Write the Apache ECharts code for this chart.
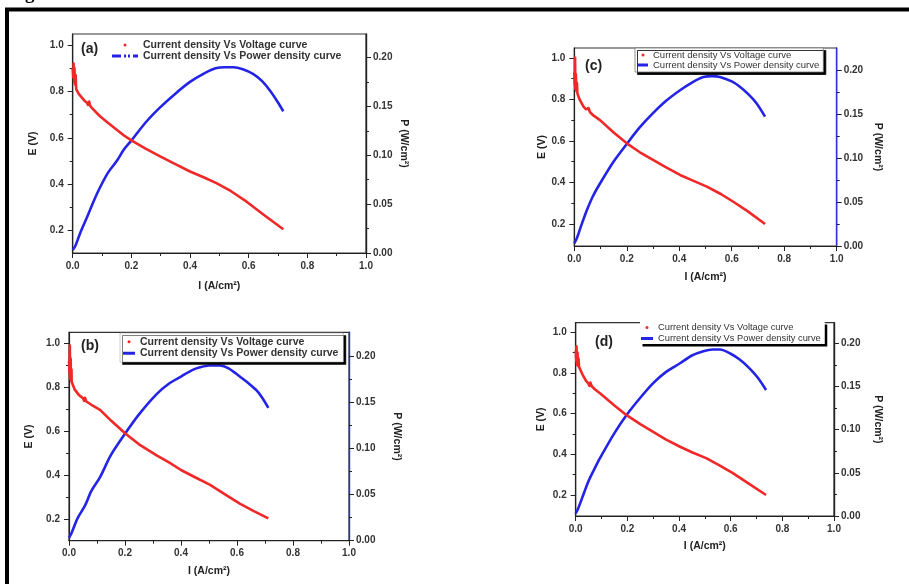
<!DOCTYPE html>
<html><head><meta charset="utf-8">
<script src="https://cdn.jsdelivr.net/npm/echarts@6/dist/echarts.min.js"></script>
<style>html,body{margin:0;padding:0;background:#fff}#c{width:909px;height:584px}</style>
</head><body><div id="c"></div>
<script>
// ---------- data ----------
const SERIES_NAMES = ['Current density Vs Voltage curve', 'Current density Vs Power density curve'];
const PANEL_LABELS = ['(a)', '(b)', '(c)', '(d)'];
const X_NAME = 'I (A/cm²)';
const E_NAME = 'E (V)';
const P_NAME = 'P (W/cm²)';
const E_TICKS = [0.2, 0.4, 0.6, 0.8, 1.0];
const E_MINOR = [0.3, 0.5, 0.7, 0.9];
const P_TICKS = [0, 0.05, 0.10, 0.15, 0.20];
const P_MINOR = [0.025, 0.075, 0.125, 0.175];

// panel (a): [I, E] and [I, P]
const A_E = [[0,0.90],[0.002,0.86],[0.003,0.92],[0.005,0.84],[0.006,0.90],[0.008,0.83],[0.010,0.87],[0.012,0.81],[0.02,0.79],[0.03,0.775],[0.04,0.76],[0.048,0.752],[0.052,0.742],[0.056,0.756],[0.06,0.736],[0.075,0.716],[0.093,0.693],[0.12,0.665],[0.15,0.635],[0.175,0.61],[0.2,0.589],[0.25,0.552],[0.298,0.52],[0.35,0.487],[0.4,0.455],[0.45,0.428],[0.49,0.405],[0.54,0.37],[0.593,0.325],[0.65,0.27],[0.718,0.206]];
const A_P = [[0,0.003],[0.01,0.008],[0.025,0.02],[0.048,0.036],[0.07,0.052],[0.093,0.067],[0.12,0.082],[0.15,0.094],[0.175,0.106],[0.2,0.115],[0.25,0.134],[0.298,0.149],[0.35,0.163],[0.4,0.175],[0.45,0.184],[0.487,0.189],[0.52,0.190],[0.548,0.190],[0.58,0.188],[0.616,0.183],[0.645,0.176],[0.673,0.166],[0.7,0.154],[0.718,0.145]];
// panel (b)
const B_E = [[0,0.92],[0.002,0.86],[0.003,0.99],[0.004,0.84],[0.006,0.93],[0.007,0.83],[0.009,0.88],[0.0095,0.825],[0.02,0.79],[0.035,0.765],[0.05,0.75],[0.054,0.738],[0.057,0.752],[0.062,0.735],[0.08,0.72],[0.111,0.697],[0.15,0.648],[0.2,0.59],[0.25,0.54],[0.313,0.49],[0.36,0.455],[0.40,0.423],[0.45,0.39],[0.504,0.355],[0.56,0.31],[0.61,0.27],[0.66,0.236],[0.712,0.203]];
const B_P = [[0,0.003],[0.01,0.009],[0.03,0.024],[0.057,0.038],[0.08,0.054],[0.111,0.069],[0.15,0.093],[0.2,0.116],[0.25,0.137],[0.313,0.159],[0.36,0.171],[0.40,0.178],[0.44,0.185],[0.468,0.188],[0.5,0.19],[0.539,0.190],[0.57,0.187],[0.61,0.178],[0.64,0.171],[0.67,0.163],[0.69,0.155],[0.712,0.144]];
// panel (c)
const C_E = [[0,0.93],[0.002,0.87],[0.003,1.0],[0.004,0.85],[0.006,0.92],[0.008,0.84],[0.010,0.88],[0.012,0.828],[0.02,0.80],[0.035,0.765],[0.045,0.752],[0.05,0.744],[0.054,0.758],[0.06,0.738],[0.075,0.72],[0.098,0.70],[0.15,0.64],[0.2,0.588],[0.25,0.545],[0.30,0.508],[0.35,0.472],[0.403,0.436],[0.45,0.41],[0.505,0.38],[0.56,0.343],[0.606,0.307],[0.66,0.262],[0.727,0.2]];
const C_P = [[0,0.003],[0.01,0.009],[0.025,0.022],[0.047,0.04],[0.07,0.056],[0.098,0.071],[0.15,0.096],[0.2,0.116],[0.25,0.135],[0.30,0.151],[0.35,0.165],[0.403,0.177],[0.45,0.186],[0.492,0.192],[0.525,0.193],[0.555,0.192],[0.6,0.187],[0.631,0.181],[0.665,0.172],[0.695,0.162],[0.727,0.147]];
// panel (d)
const D_E = [[0,0.91],[0.002,0.86],[0.003,0.93],[0.005,0.84],[0.007,0.90],[0.009,0.835],[0.011,0.87],[0.013,0.829],[0.025,0.795],[0.04,0.76],[0.049,0.748],[0.053,0.736],[0.057,0.752],[0.062,0.734],[0.075,0.718],[0.094,0.70],[0.15,0.64],[0.197,0.592],[0.25,0.548],[0.30,0.51],[0.35,0.472],[0.404,0.437],[0.45,0.41],[0.507,0.38],[0.56,0.343],[0.61,0.306],[0.67,0.256],[0.737,0.2]];
const D_P = [[0,0.003],[0.01,0.009],[0.025,0.021],[0.049,0.04],[0.07,0.053],[0.094,0.067],[0.15,0.096],[0.197,0.117],[0.25,0.137],[0.30,0.154],[0.35,0.167],[0.404,0.177],[0.45,0.186],[0.494,0.191],[0.53,0.193],[0.559,0.193],[0.6,0.188],[0.636,0.181],[0.67,0.172],[0.703,0.161],[0.737,0.146]];

const PANEL_DATA = [[A_E, A_P], [B_E, B_P], [C_E, C_P], [D_E, D_P]];

// ---------- layout (styles / positions) ----------
const RED = '#f02828', BLUE = '#2424e6';
const LAYOUT = [
  { grid:{left:72.7, top:34, width:293.3, height:219}, e:[0.104,1.047], p:[0,0.224], rightColor:'#222',
    gE:34, gP:32, gI:28, lab:{left:81, top:42},
    legend:{left:112, top:39.5, padding:0, itemWidth:26, textStyle:{fontSize:10.5, fontWeight:'bold', lineHeight:11}, backgroundColor:'transparent'} },
  { grid:{left:69, top:332.3, width:280, height:208.4}, e:[0.101,1.05], p:[0,0.226], rightColor:'#2a2ae0',
    gE:34, gP:42, gI:25, lab:{left:81, top:339},
    legend:{left:120, top:333, padding:[3,5,3,3], itemWidth:12, textStyle:{fontSize:10.5, fontWeight:'bold', lineHeight:11.5},
      backgroundColor:'#fff', borderColor:'#999', borderWidth:0.5, shadowColor:'#000', shadowOffsetX:2.5, shadowOffsetY:2.5, shadowBlur:0} },
  { grid:{left:574.3, top:48, width:262.4, height:198}, e:[0.094,1.047], p:[0,0.225], rightColor:'#3030e0',
    gE:26, gP:36, gI:26, lab:{left:585, top:59},
    legend:{left:635, top:48, padding:[2,4,2,3], itemWidth:10, textStyle:{fontSize:9.5, lineHeight:10},
      backgroundColor:'#fff', borderColor:'#777', borderWidth:0.8, shadowColor:'#000', shadowOffsetX:2.5, shadowOffsetY:2.5, shadowBlur:0} },
  { grid:{left:575.7, top:322.7, width:258.3, height:193.3}, e:[0.097,1.046], p:[0,0.224], rightColor:'#222',
    gE:29, gP:38, gI:25, lab:{left:595, top:335},
    legend:{left:640, top:322, padding:[0,4,0,1], itemWidth:12, textStyle:{fontSize:9.3, lineHeight:11},
      backgroundColor:'#fff', borderWidth:0, shadowColor:'#000', shadowOffsetX:2.5, shadowOffsetY:2.5, shadowBlur:0} }
];

const AX = '#222';
const tickLabel = {fontSize:10, fontWeight:'bold', color:'#333', fontFamily:'Arial, Liberation Sans, sans-serif'};
const nameStyle = {fontSize:10.5, fontWeight:'bold', color:'#222', fontFamily:'Arial, Liberation Sans, sans-serif'};

const grids = [], xAxes = [], yAxes = [], series = [], legends = [], titles = [];
LAYOUT.forEach((L, k) => {
  grids.push(Object.assign({show:true, borderColor:'#333', borderWidth:1.2, backgroundColor:'#fff', containLabel:false}, L.grid));
  xAxes.push({gridIndex:k, type:'value', min:0, max:1, interval:0.2, name:X_NAME, nameLocation:'middle', nameGap:L.gI,
    nameTextStyle:nameStyle,
    axisLine:{show:true, onZero:false, lineStyle:{color:AX, width:1.2}},
    axisTick:{show:true, length:5, lineStyle:{color:AX}},
    minorTick:{show:true, splitNumber:2, length:3, lineStyle:{color:AX}},
    axisLabel:{formatter:v => v.toFixed(1), margin:8, ...tickLabel},
    splitLine:{show:false}});
  const eBase = {gridIndex:k, type:'value', position:'left', min:L.e[0], max:L.e[1], splitLine:{show:false}};
  const pBase = {gridIndex:k, type:'value', position:'right', min:L.p[0], max:L.p[1], splitLine:{show:false}};
  yAxes.push(Object.assign({}, eBase, {name:E_NAME, nameLocation:'middle', nameGap:L.gE, nameRotate:90, nameTextStyle:nameStyle,
    axisLine:{show:true, lineStyle:{color:AX, width:1.2}},
    axisTick:{show:true, customValues:E_TICKS, length:5, lineStyle:{color:AX}},
    axisLabel:{customValues:E_TICKS, formatter:v => v.toFixed(1), margin:9, ...tickLabel}}));
  yAxes.push(Object.assign({}, pBase, {name:P_NAME, nameLocation:'middle', nameGap:L.gP, nameRotate:-90, nameTextStyle:nameStyle,
    axisLine:{show:true, lineStyle:{color:L.rightColor, width:1.4}},
    axisTick:{show:true, customValues:P_TICKS, length:5, lineStyle:{color:AX}},
    axisLabel:{customValues:P_TICKS, formatter:v => v.toFixed(2), margin:7, ...tickLabel}}));
  yAxes.push(Object.assign({}, eBase, {axisLine:{show:false}, axisLabel:{show:false},
    axisTick:{show:true, customValues:E_MINOR, length:3, lineStyle:{color:AX}}}));
  yAxes.push(Object.assign({}, pBase, {axisLine:{show:false}, axisLabel:{show:false},
    axisTick:{show:true, customValues:P_MINOR, length:3, lineStyle:{color:AX}}}));
  const [dE, dP] = PANEL_DATA[k];
  series.push({name:SERIES_NAMES[0], type:'line', xAxisIndex:k, yAxisIndex:k*4, data:dE, symbol:'none', showSymbol:false,
    smooth:false,
    lineStyle:{color:RED, width:2.6, join:'round'}, itemStyle:{color:RED}, silent:true, animation:false, z:3});
  series.push({name:SERIES_NAMES[1], type:'line', xAxisIndex:k, yAxisIndex:k*4+1, data:dP, symbol:'none', showSymbol:false,
    smooth:0.3,
    lineStyle:{color:BLUE, width:2.6, join:'round'}, itemStyle:{color:BLUE}, silent:true, animation:false, z:2});
  const lg = Object.assign({orient:'vertical', itemHeight:3, itemGap:0, selectedMode:false, symbolKeepAspect:false,
    data:[{name:SERIES_NAMES[0], icon:'circle'},
          {name:SERIES_NAMES[1], icon: k===0 ? 'path://M0,0h9v1h-9zM12,0h2v1h-2zM16,0h2v1h-2zM21,0h5v1h-5z' : 'path://M0,0h20v1h-20z'}]}, L.legend);
  lg.textStyle = Object.assign({color:'#333', fontFamily:'Arial, Liberation Sans, sans-serif'}, L.legend.textStyle);
  legends.push(lg);
  titles.push({text:PANEL_LABELS[k], left:L.lab.left, top:L.lab.top, padding:0,
    textStyle:{fontSize:14, fontWeight:'bold', color:'#222', fontFamily:'Arial, Liberation Sans, sans-serif'}});
});

const chart = echarts.init(document.getElementById('c'), null, {renderer:'canvas'});
chart.setOption({
  backgroundColor:'#fff',
  animation:false,
  title:titles,
  legend:legends,
  grid:grids,
  xAxis:xAxes,
  yAxis:yAxes,
  series:series,
  graphic:[
    {type:'rect', shape:{x:7, y:9.5, width:930, height:620}, style:{fill:'none', stroke:'#000', lineWidth:4}, z:10},
    {type:'text', left:8, top:-15, style:{text:'Figure 4', font:'bold 19px "Liberation Serif", serif', fill:'#000'}, z:10},
    {type:'text', left:768, top:-15, style:{text:'ation of cell', font:'bold 19px "Liberation Serif", serif', fill:'#000'}, z:10}
  ]
});
</script>
</body></html>
